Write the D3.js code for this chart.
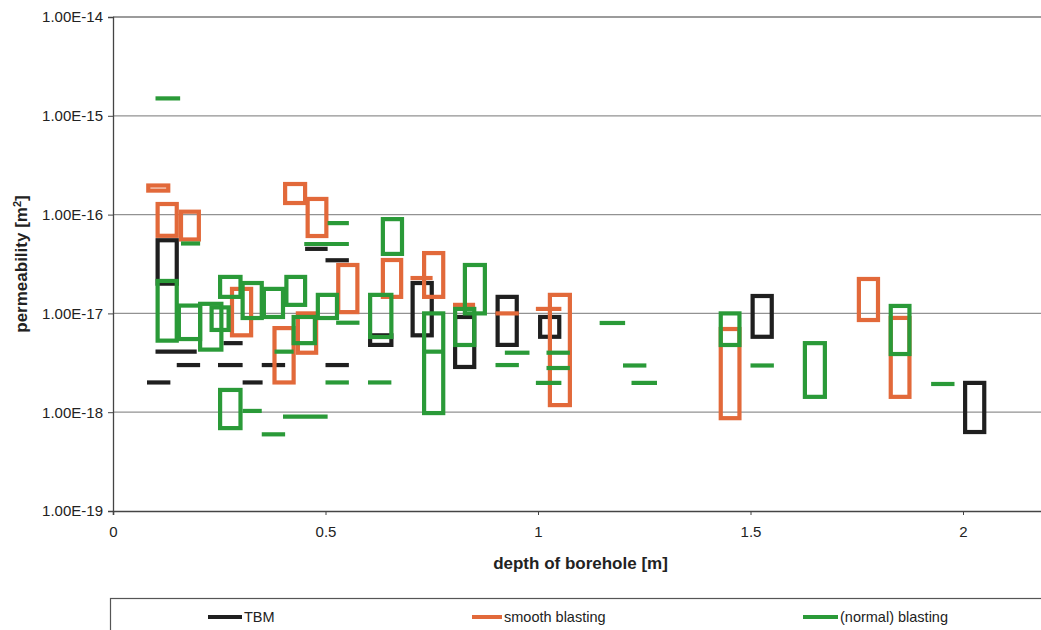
<!DOCTYPE html>
<html>
<head>
<meta charset="utf-8">
<script src="https://cdn.jsdelivr.net/npm/d3@7"></script>
<style>
  html, body { margin: 0; padding: 0; background: #fff; }
  svg { display: block; }
  text { font-family: "Liberation Sans", Arial, sans-serif; fill: #222; }
</style>
</head>
<body>
<svg id="chart" width="1041" height="630"></svg>
<script>
// Each entry: [depth from, depth to, lowest permeability, highest permeability] (m, m, m², m²).
// Entries whose lowest and highest value coincide are single measurements.
const tbm = [
  [0.105, 0.150, 2.0e-17, 5.5e-17],
  [0.080, 0.135, 2.0e-18, 2.0e-18],
  [0.100, 0.197, 4.1e-18, 4.1e-18],
  [0.150, 0.205, 3.0e-18, 3.0e-18],
  [0.247, 0.305, 3.0e-18, 3.0e-18],
  [0.260, 0.305, 5.0e-18, 5.0e-18],
  [0.305, 0.352, 2.0e-18, 2.0e-18],
  [0.350, 0.405, 3.0e-18, 3.0e-18],
  [0.452, 0.505, 4.5e-17, 4.5e-17],
  [0.500, 0.555, 3.45e-17, 3.45e-17],
  [0.500, 0.555, 3.0e-18, 3.0e-18],
  [0.605, 0.655, 4.8e-18, 6.0e-18],
  [0.705, 0.750, 6.0e-18, 2.03e-17],
  [0.805, 0.850, 2.87e-18, 9.2e-18],
  [0.905, 0.950, 4.8e-18, 1.47e-17],
  [1.005, 1.050, 5.8e-18, 9.2e-18],
  [1.505, 1.550, 5.8e-18, 1.5e-17],
  [2.005, 2.050, 6.3e-19, 1.98e-18]
];

const smoothBlasting = [
  [0.083, 0.130, 1.75e-16, 1.97e-16],
  [0.105, 0.150, 6.1e-17, 1.28e-16],
  [0.160, 0.202, 5.6e-17, 1.07e-16],
  [0.280, 0.325, 6.0e-18, 1.77e-17],
  [0.380, 0.425, 2.0e-18, 7.1e-18],
  [0.405, 0.452, 1.31e-16, 2.04e-16],
  [0.435, 0.478, 4.0e-18, 1.0e-17],
  [0.458, 0.502, 6.07e-17, 1.44e-16],
  [0.530, 0.575, 1.03e-17, 3.09e-17],
  [0.635, 0.678, 1.47e-17, 3.47e-17],
  [0.700, 0.752, 2.28e-17, 2.28e-17],
  [0.732, 0.777, 1.47e-17, 4.08e-17],
  [0.800, 0.852, 1.22e-17, 1.22e-17],
  [0.900, 0.955, 1.0e-17, 1.0e-17],
  [0.995, 1.055, 1.11e-17, 1.11e-17],
  [1.028, 1.075, 1.18e-18, 1.54e-17],
  [1.430, 1.474, 8.7e-19, 6.95e-18],
  [1.755, 1.800, 8.57e-18, 2.23e-17],
  [1.830, 1.874, 1.43e-18, 9.0e-18]
];

const normalBlasting = [
  [0.100, 0.158, 1.5e-15, 1.5e-15],
  [0.105, 0.150, 5.3e-18, 2.13e-17],
  [0.160, 0.205, 5.1e-17, 5.1e-17],
  [0.155, 0.205, 5.5e-18, 1.2e-17],
  [0.205, 0.255, 4.3e-18, 1.25e-17],
  [0.232, 0.272, 6.8e-18, 1.15e-17],
  [0.252, 0.300, 6.9e-19, 1.68e-18],
  [0.252, 0.300, 1.47e-17, 2.34e-17],
  [0.305, 0.350, 1.03e-18, 1.03e-18],
  [0.305, 0.350, 8.98e-18, 2.03e-17],
  [0.355, 0.400, 9.2e-18, 1.77e-17],
  [0.350, 0.405, 5.97e-19, 5.97e-19],
  [0.380, 0.425, 4.1e-18, 4.1e-18],
  [0.400, 0.505, 9.0e-19, 9.0e-19],
  [0.408, 0.452, 1.22e-17, 2.34e-17],
  [0.425, 0.475, 5.0e-18, 9.2e-18],
  [0.482, 0.527, 8.98e-18, 1.54e-17],
  [0.450, 0.555, 5.04e-17, 5.04e-17],
  [0.505, 0.555, 8.2e-17, 8.2e-17],
  [0.500, 0.555, 2.0e-18, 2.0e-18],
  [0.525, 0.580, 8.05e-18, 8.05e-18],
  [0.605, 0.655, 5.77e-18, 1.54e-17],
  [0.600, 0.655, 2.0e-18, 2.0e-18],
  [0.635, 0.680, 4.0e-17, 9.0e-17],
  [0.732, 0.777, 9.8e-19, 1.0e-17],
  [0.732, 0.777, 4.1e-18, 4.1e-18],
  [0.805, 0.850, 4.79e-18, 1.11e-17],
  [0.828, 0.875, 1.0e-17, 3.09e-17],
  [0.900, 0.955, 3.0e-18, 3.0e-18],
  [0.922, 0.980, 4.0e-18, 4.0e-18],
  [1.020, 1.075, 4.0e-18, 4.0e-18],
  [1.020, 1.075, 2.8e-18, 2.8e-18],
  [0.995, 1.055, 1.98e-18, 1.98e-18],
  [1.145, 1.205, 8.0e-18, 8.0e-18],
  [1.200, 1.255, 2.97e-18, 2.97e-18],
  [1.220, 1.280, 1.98e-18, 1.98e-18],
  [1.430, 1.474, 4.79e-18, 1.0e-17],
  [1.500, 1.555, 2.97e-18, 2.97e-18],
  [1.628, 1.675, 1.43e-18, 5.0e-18],
  [1.830, 1.874, 3.88e-18, 1.19e-17],
  [1.925, 1.980, 1.93e-18, 1.93e-18]
];

const yTicks = [1e-19, 1e-18, 1e-17, 1e-16, 1e-15, 1e-14];
const xTicks = [0, 0.5, 1, 1.5, 2];
const seriesNames = ["TBM", "smooth blasting", "(normal) blasting"];
const seriesColors = ["#1f1f1f", "#e2693a", "#2a9a38"];

const svg = d3.select("#chart");
const plotLeft = 113, plotTop = 17, plotBottom = 511, plotRight = 1048;

const x = d3.scaleLinear().domain([0, 2.2]).range([plotLeft, plotRight]);
const y = d3.scaleLog().domain([1e-19, 1e-14]).range([plotBottom, plotTop]);

// horizontal grid lines at each decade
svg.append("g")
  .selectAll("line")
  .data(yTicks.slice(1, -1))
  .join("line")
  .attr("x1", plotLeft).attr("x2", plotRight)
  .attr("y1", d => y(d)).attr("y2", d => y(d))
  .attr("stroke", "#929292").attr("stroke-width", 1.2);

// top frame line
svg.append("line")
  .attr("x1", plotLeft).attr("x2", plotRight)
  .attr("y1", y(1e-14)).attr("y2", y(1e-14))
  .attr("stroke", "#7a7a7a").attr("stroke-width", 1.4);

// y axis
const yAxis = d3.axisLeft(y)
  .tickValues(yTicks)
  .tickFormat(d => d.toExponential(2).toUpperCase())
  .tickSize(5)
  .tickPadding(5);
const gy = svg.append("g").attr("transform", `translate(${plotLeft},0)`).call(yAxis);
gy.select(".domain").attr("stroke", "#444").attr("stroke-width", 1.3);
gy.selectAll(".tick line").attr("stroke", "#444");
gy.selectAll(".tick text")
  .attr("font-size", 15)
  .attr("font-family", "Liberation Sans, Arial, sans-serif")
  .attr("fill", "#222");

// x axis
const xAxis = d3.axisBottom(x)
  .tickValues(xTicks)
  .tickFormat(d => String(d))
  .tickSize(4)
  .tickPadding(11);
const gx = svg.append("g").attr("transform", `translate(0,${plotBottom})`).call(xAxis);
gx.select(".domain").attr("stroke", "#444").attr("stroke-width", 1.6);
gx.selectAll(".tick line").attr("stroke", "#444");
gx.selectAll(".tick text")
  .attr("font-size", 15)
  .attr("font-family", "Liberation Sans, Arial, sans-serif")
  .attr("fill", "#222");

// axis titles
svg.append("text")
  .attr("x", (plotLeft + plotRight) / 2).attr("y", 569)
  .attr("text-anchor", "middle")
  .attr("font-size", 17).attr("font-weight", "bold")
  .text("depth of borehole [m]");

const yTitle = svg.append("text")
  .attr("transform", `translate(27,${(plotTop + plotBottom) / 2}) rotate(-90)`)
  .attr("text-anchor", "middle")
  .attr("font-size", 17).attr("font-weight", "bold");
yTitle.append("tspan").text("permeability [m");
yTitle.append("tspan").attr("baseline-shift", "super").attr("font-size", 11).text("2");
yTitle.append("tspan").text("]");

// measurement ranges: boxes for ranges, short bars for single values
const marks = svg.append("g");
[tbm, smoothBlasting, normalBlasting].forEach((rows, i) => {
  const g = marks.append("g")
    .attr("fill", "none")
    .attr("stroke", seriesColors[i])
    .attr("stroke-width", 4.2);
  g.selectAll("rect")
    .data(rows.filter(d => d[2] !== d[3]))
    .join("rect")
    .attr("x", d => x(d[0]))
    .attr("width", d => x(d[1]) - x(d[0]))
    .attr("y", d => y(d[3]))
    .attr("height", d => y(d[2]) - y(d[3]));
  g.selectAll("line")
    .data(rows.filter(d => d[2] === d[3]))
    .join("line")
    .attr("x1", d => x(d[0]))
    .attr("x2", d => x(d[1]))
    .attr("y1", d => y(d[2]))
    .attr("y2", d => y(d[2]));
});

// legend box
svg.append("rect")
  .attr("x", 110.5).attr("y", 598.5)
  .attr("width", 1000).attr("height", 100)
  .attr("fill", "none").attr("stroke", "#555").attr("stroke-width", 1.2);

const legendX = [208, 472, 803];
const legendLen = [34, 30, 35];
const legend = svg.append("g")
  .selectAll("g")
  .data(seriesNames)
  .join("g")
  .attr("transform", (d, i) => `translate(${legendX[i]},617)`);
legend.append("line")
  .attr("x1", 0).attr("x2", (d, i) => legendLen[i])
  .attr("y1", 0).attr("y2", 0)
  .attr("stroke", (d, i) => seriesColors[i])
  .attr("stroke-width", 4);
legend.append("text")
  .attr("x", (d, i) => legendLen[i] + 2)
  .attr("y", 5)
  .attr("font-size", 14.5)
  .text(d => d);
</script>
</body>
</html>
